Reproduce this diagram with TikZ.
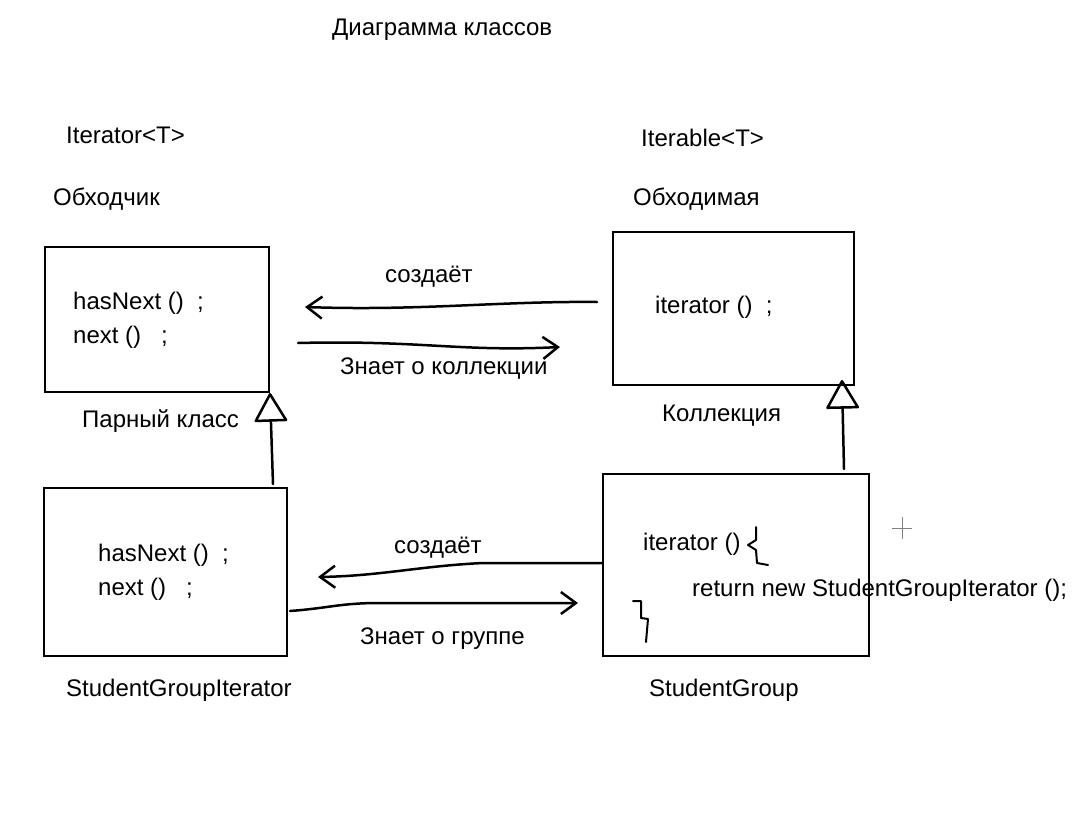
\documentclass[tikz,border=0pt]{standalone}
\usepackage{fontspec}
\setmainfont{Liberation Sans}
\usetikzlibrary{positioning,calc,arrows.meta}

\tikzset{
    classbox/.style={draw, line width=2pt, inner sep=0pt},
    txt/.style={anchor=west, inner sep=0pt, yshift=-2pt, font=\fontsize{24}{28}\selectfont},
    wire/.style={line width=2.5pt, line cap=round, line join=round},
    barb/.style={-{Straight Barb[length=15pt,width=22pt,line width=2.5pt]}},
    inherit/.style={-{Triangle[open,round,length=30pt,width=34pt,line width=2.5pt]}}
}

\begin{document}
\begin{tikzpicture}[x=1pt,y=-1pt]
    \useasboundingbox (0,0) rectangle (1088,825);

    % Title
    \node[txt] (title) at (332,28) {Диаграмма классов};

    % Iterator side
    \node[txt] (itername) at (66,133) {Iterator<T>};
    \node[txt] (iterru) at (53,197) {Обходчик};
    \node[classbox, minimum width=224pt, minimum height=145pt] (iterbox) at (157,319.5) {};
    \node[txt] (iterm1) at (73,301) {hasNext ()\ \ ;};
    \node[txt] (iterm2) at (73,335) {next ()\ \ \ ;};
    \node[txt] (pair) at (82,419) {Парный класс};

    % Iterable side
    \node[txt] (ablename) at (641,136) {Iterable<T>};
    \node[txt] (ableru) at (633,197) {Обходимая};
    \node[classbox, minimum width=241pt, minimum height=153pt] (ablebox) at (733.5,308.5) {};
    \node[txt] (ablem) at (655,305) {iterator ()\ \ ;};
    \node[txt] (coll) at (662,414) {Коллекция};

    % StudentGroupIterator
    \node[classbox, minimum width=243pt, minimum height=168pt] (sgiter) at (165.5,572) {};
    \node[txt] (sgim1) at (98,553) {hasNext ()\ \ ;};
    \node[txt] (sgim2) at (98,587) {next ()\ \ \ ;};
    \node[txt] (sginame) at (66,688) {StudentGroupIterator};

    % StudentGroup
    \node[classbox, minimum width=266pt, minimum height=182pt] (sgroup) at (736,565) {};
    \node[txt] (sgm) at (643,542) {iterator ()};
    \node[txt] (sgret) at (692,588) {return new StudentGroupIterator ();};
    \node[txt] (sgname) at (649,688) {StudentGroup};
    \draw[wire, line width=2pt] (756,527) -- (756,540) -- (748,545) -- (756,550) -- (757,563) -- (768,565);
    \draw[wire, line width=2pt] (633,601) -- (641,601) -- (641,618) -- (648,619) -- (646,642);

    % top connectors
    \coordinate (topA) at (597,302);
    \coordinate (topB) at (305,307);
    \coordinate (topC) at (298,343);
    \coordinate (topD) at (560,347);
    \draw[wire, barb] (topA) .. controls (500,301) and (420,311) .. (topB);
    \node[txt] (make1) at (385,275) {создаёт};
    \draw[wire, barb] (topC) .. controls (420,340) and (460,352) .. (topD);
    \node[txt] (knows1) at (340,367) {Знает о коллекции};

    % bottom connectors
    \coordinate (botB) at (318,577);
    \coordinate (botC) at (290,611);
    \coordinate (botD) at (578,603);
    \draw[wire, barb] (sgroup.west |- 0,563) -- (483,563) .. controls (420,566) and (380,576) .. (botB);
    \node[txt] (make2) at (394,546) {создаёт};
    \draw[wire, barb] (botC) .. controls (330,608) and (340,603) .. (380,603) -- (botD);
    \node[txt] (knows2) at (360,637) {Знает о группе};

    % inheritance
    \coordinate (sgitop) at (273,484);
    \coordinate (sgtop) at (844,469);
    \coordinate (abletip) at (842,380);
    \draw[wire, inherit] (sgitop) -- (iterbox.south east);
    \draw[wire, inherit] (sgtop) -- (abletip);

    % cursor
    \coordinate (cursor) at (902,528);
    \draw[gray, line width=1pt] ($(cursor)+(-10,0)$) -- ($(cursor)+(10,0)$);
    \draw[gray, line width=1pt] ($(cursor)+(0,-11)$) -- ($(cursor)+(0,11)$);
\end{tikzpicture}
\end{document}
